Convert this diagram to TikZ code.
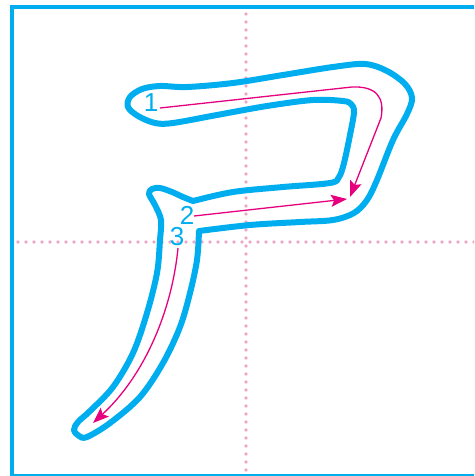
\documentclass[tikz,border=0pt]{standalone}
\usepackage{fontspec}
\setsansfont{Liberation Sans}
\definecolor{strokeblue}{RGB}{0, 174, 239}
\definecolor{guidepink}{RGB}{230, 0, 126}
\definecolor{dotpink}{RGB}{238, 168, 200}
\usetikzlibrary{arrows.meta}
\tikzset{
	frame/.style={draw=strokeblue, line width=3.6pt},
	guide/.style={draw=dotpink, line width=3.6pt, line cap=round, dash pattern=on 0pt off 8pt},
	outline/.style={draw=strokeblue, line width=6pt, line join=round},
	order/.style={-{Stealth[length=16pt, width=12pt, inset=3pt]}, draw=guidepink, fill=none, line width=1.3pt},
	numlabel/.style={text=strokeblue, inner sep=0pt, font=\sffamily\fontsize{26}{26}\selectfont},
}

\begin{document}
\begin{tikzpicture}[x=1pt, y=-1pt]
		\useasboundingbox (0,0) rectangle (474,476);
		\clip (0,0) rectangle (474,476);
		% writing grid
		\draw[frame] (11.7,7.3) rectangle (490,475.5);
		\draw[guide] (246,14) -- (246,480);
		\draw[guide] (18,242) -- (480,242);
		% character outline
		\draw[outline] plot[smooth, tension=0.55] coordinates {
			(193,201) (233,192) (283,187) (330,183) (339,177) (344,163)
			(350,135) (354,112) (351,104) (343,101) (313,100) (267,106)
			(217,115) (173,123) (155,123) (138,116) (128,107) (130,97)
			(142,89) (160,86) (187,87) (233,83) (283,75) (333,67) (365,64)
			(387,71) (405,84) (412,98) (407,114) (393,140) (377,180)
			(367,200) (354,213) (333,220) (300,222) (250,225) (199,231)}
			-- plot[smooth, tension=0.55] coordinates {
			(199,231) (197,260) (190,293) (180,327) (163,363) (140,397)
			(110,423) (87,437) (79,436) (74,430) (78,422) (90,411)
			(113,387) (133,353) (147,313) (157,273) (160,240) (161,220)
			(155,205) (149,194) (152,189) (160,188) (172,192) (183,197)
			(193,201)} -- cycle;
		% stroke numbers
		\node[numlabel] (one) at (151,103) {1};
		\node[numlabel] (two) at (187,215) {2};
		\node[numlabel] (three) at (177,237) {3};
		% stroke directions
		\coordinate (start1) at (160,108);
		\coordinate (turn1) at (352,87);
		\coordinate (end1) at (350,197);
		\coordinate (start2) at (194,216);
		\coordinate (end2) at (347,199);
		\coordinate (start3) at (178,248);
		\coordinate (end3) at (93,423);
		\draw[order] (start1) -- (turn1) .. controls (376,86) and (385,97) .. (381,118) -- (end1);
		\draw[order] (start2) -- (end2);
		\draw[order] (start3) .. controls (172,310) and (145,375) .. (end3);
	\end{tikzpicture}
\end{document}
